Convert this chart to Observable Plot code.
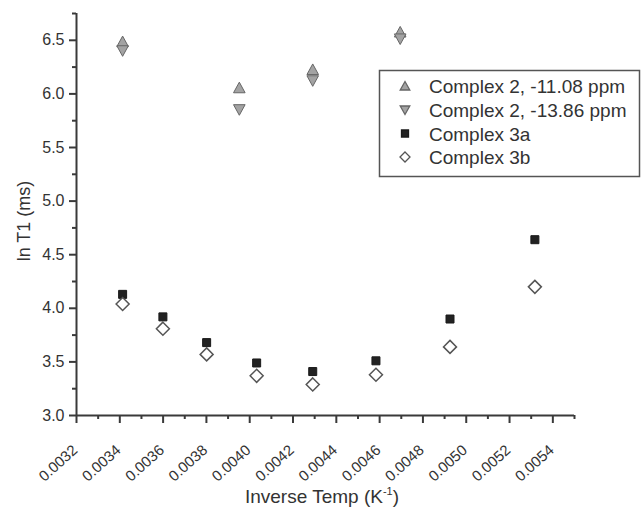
<!DOCTYPE html>
<html>
<head>
<meta charset="utf-8">
<script src="https://cdn.jsdelivr.net/npm/d3@7"></script>
<script src="https://cdn.jsdelivr.net/npm/@observablehq/plot@0.6"></script>
<style>
  html, body { margin: 0; padding: 0; background: #fff; }
  #chart svg { display: block; font-family: "Liberation Sans", Arial, sans-serif; }
</style>
</head>
<body>
<div id="chart"></div>
<script>
// ---- data ----
const invTemp3 = [0.003413, 0.003599, 0.003801, 0.004032, 0.004291, 0.004583, 0.004925, 0.005317];
const complex3a = [4.13, 3.92, 3.68, 3.49, 3.41, 3.51, 3.90, 4.64];
const complex3b = [4.04, 3.81, 3.57, 3.37, 3.29, 3.38, 3.64, 4.20];
const invTemp2 = [0.003413, 0.003952, 0.004291, 0.004695];
const complex2_1108 = [6.49, 6.06, 6.23, 6.58];
const complex2_1386 = [6.40, 5.85, 6.12, 6.51];
const seriesNames = ["Complex 2, -11.08 ppm", "Complex 2, -13.86 ppm", "Complex 3a", "Complex 3b"];
const xMajorTicks = [0.0032, 0.0034, 0.0036, 0.0038, 0.0040, 0.0042, 0.0044, 0.0046, 0.0048, 0.0050, 0.0052, 0.0054];
const xMinorTicks = [0.0033, 0.0035, 0.0037, 0.0039, 0.0041, 0.0043, 0.0045, 0.0047, 0.0049, 0.0051, 0.0053, 0.0055];
const yMajorTicks = [3.0, 3.5, 4.0, 4.5, 5.0, 5.5, 6.0, 6.5];
const yMinorTicks = [3.25, 3.75, 4.25, 4.75, 5.25, 5.75, 6.25, 6.75];

const t3 = invTemp3.map((x, i) => ({x, a: complex3a[i], b: complex3b[i]}));
const t2 = invTemp2.map((x, i) => ({x, up: complex2_1108[i], down: complex2_1386[i]}));

// custom fixed-size symbols
const poly = (pts) => ({draw(ctx) { ctx.moveTo(pts[0][0], pts[0][1]); for (let i = 1; i < pts.length; i++) ctx.lineTo(pts[i][0], pts[i][1]); ctx.closePath(); }});
const upTri = poly([[0, -5.3], [5.8, 5.3], [-5.8, 5.3]]);
const downTri = poly([[0, 5.3], [5.8, -5.3], [-5.8, -5.3]]);
const square = poly([[-4, -4], [4, -4], [4, 4], [-4, 4]]);
const diamond = poly([[0, -6.5], [6.5, 0], [0, 6.5], [-6.5, 0]]);

const triFill = "#a3a3a3", triStroke = "#666";
const axisColor = "#3a3a3a", textColor = "#333";

const chart = Plot.plot({
  width: 644,
  height: 507,
  marginLeft: 76,
  marginRight: 70,
  marginTop: 13,
  marginBottom: 92,
  style: {fontFamily: "'Liberation Sans', Arial, sans-serif", fontSize: "16px", color: textColor, background: "#fff"},
  x: {domain: [0.0032, 0.0055], axis: null},
  y: {domain: [3.0, 6.75], axis: null},
  marks: [
    // y ticks + labels
    Plot.axisY({ticks: yMajorTicks, tickSize: 7, tickPadding: 5, tickFormat: d3.format(".1f"), label: null, stroke: axisColor, strokeWidth: 2, fill: textColor, fontSize: 16}),
    Plot.axisY({ticks: yMinorTicks, tickSize: 4, tickFormat: () => "", label: null, stroke: axisColor, strokeWidth: 2}),
    // x ticks
    Plot.axisX({ticks: xMajorTicks, tickSize: 8, tickFormat: () => "", label: null, stroke: axisColor, strokeWidth: 2}),
    Plot.axisX({ticks: xMinorTicks, tickSize: 4, tickFormat: () => "", label: null, stroke: axisColor, strokeWidth: 2}),
    // x tick labels, rotated
    Plot.text(xMajorTicks, {x: d => d, frameAnchor: "bottom", text: d => d3.format(".4f")(d), rotate: -42, textAnchor: "end", dx: 2, dy: 36, fill: textColor, fontSize: 15}),
    // axis lines
    Plot.ruleX([0.0032], {stroke: axisColor, strokeWidth: 2}),
    Plot.ruleY([3.0], {stroke: axisColor, strokeWidth: 2}),
    // data
    Plot.dot(t3, {x: "x", y: "a", symbol: square, fill: "#222", stroke: "#1a1a1a", strokeWidth: 1}),
    Plot.dot(t3, {x: "x", y: "b", symbol: diamond, fill: "#fff", stroke: "#555", strokeWidth: 1.5}),
    Plot.dot(t2, {x: "x", y: "up", symbol: upTri, fill: triFill, stroke: triStroke, strokeWidth: 1}),
    Plot.dot(t2, {x: "x", y: "down", symbol: downTri, fill: triFill, stroke: triStroke, strokeWidth: 1})
  ]
});

document.getElementById("chart").appendChild(chart);

// axis titles and legend
const svg = d3.select(chart);
const xt = svg.append("text")
  .attr("x", 322).attr("y", 503)
  .attr("text-anchor", "middle")
  .attr("fill", textColor)
  .style("font-size", "19px");
xt.append("tspan").text("Inverse Temp (K");
xt.append("tspan").text("-1").attr("dy", -8).style("font-size", "11px");
xt.append("tspan").text(")").attr("dy", 8);

svg.append("text")
  .attr("transform", "translate(30,221) rotate(-90)")
  .attr("text-anchor", "middle")
  .attr("fill", textColor)
  .style("font-size", "18px")
  .text("ln T1 (ms)");

const lg = svg.append("g").attr("text-anchor", "start");
lg.append("rect").attr("x", 379.5).attr("y", 70.5).attr("width", 260).attr("height", 106)
  .attr("fill", "#fff").attr("stroke", "#555").attr("stroke-width", 1.5);
const legendSymbols = [
  {path: "M0,-4.5L4.8,4L-4.8,4Z", fill: triFill, stroke: triStroke},
  {path: "M0,4.5L4.8,-4L-4.8,-4Z", fill: triFill, stroke: triStroke},
  {path: "M-3.5,-3.5H3.5V3.5H-3.5Z", fill: "#222", stroke: "#1a1a1a"},
  {path: "M0,-5L5,0L0,5L-5,0Z", fill: "#fff", stroke: "#555"}
];
const rowY = [86, 110, 133.5, 157];
seriesNames.forEach((name, i) => {
  lg.append("path").attr("d", legendSymbols[i].path)
    .attr("transform", `translate(405,${rowY[i]})`)
    .attr("fill", legendSymbols[i].fill).attr("stroke", legendSymbols[i].stroke).attr("stroke-width", 1.3);
  lg.append("text").attr("x", 429).attr("y", rowY[i] + 7)
    .attr("text-anchor", "start")
    .attr("fill", textColor).style("font-size", "19px").text(name);
});
</script>
</body>
</html>
